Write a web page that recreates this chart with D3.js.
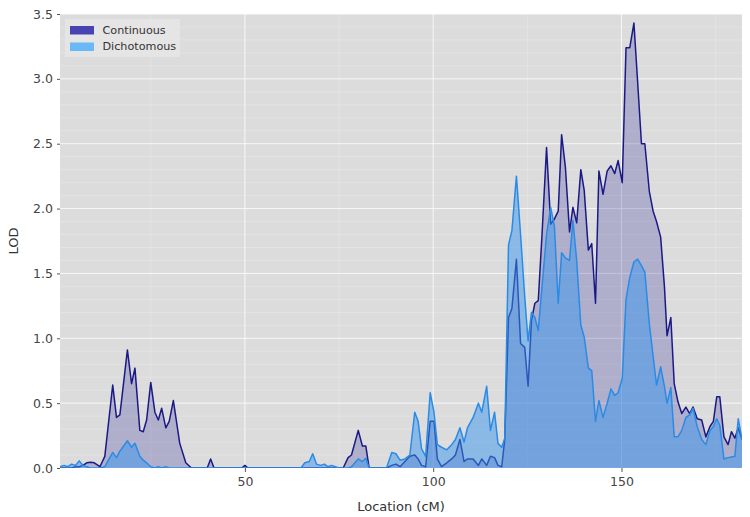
<!DOCTYPE html>
<html lang="en">
	<head>
		<meta charset="UTF-8" />
		<title>LOD profile</title>
		<style>
			html,
			body {
				margin: 0;
				padding: 0;
				background-color: #ffffff;
				font-family: 'DejaVu Sans', sans-serif;
			}

			#chart {
				display: block;
			}
		</style>
	</head>
	<body>
		<svg id="chart"></svg>

		<script src="https://d3js.org/d3.v7.min.js"></script>

		<script>
			const locations = [
				0.9, 2, 3, 4, 5, 6, 7, 8, 9, 10,
				11.5, 12.8, 14.9, 15.9, 16.8, 17.8, 18.8, 19.9, 20.8, 22.1,
				23, 23.9, 25, 26.1, 27, 27.9, 29, 29.9, 31, 32.7,
				34.3, 35.8, 40, 40.9, 41.8, 49.2, 50, 50.8, 64.9, 65.9,
				67.1, 68, 69, 70.1, 71.1, 72, 73, 74, 75, 76.1,
				77.4, 78.3, 80.1, 81.2, 82.1, 83, 87.6, 89, 90.1, 91.2,
				92.5, 93.8, 95.1, 96, 96.9, 98, 99.2, 100.2, 101.1, 102.2,
				103.6, 104.9, 105.9, 107.1, 108.2, 109.1, 110.6, 112, 112.9, 114.2,
				115.2, 116.3, 117.2, 118.2, 119, 120, 120.9, 122.1, 123.2, 124.3,
				125.2, 126.1, 127, 127.9, 128.9, 130.1, 131.2, 132.2, 133.2, 134.1,
				135.1, 136.2, 137.1, 138.1, 139.2, 140.1, 141.2, 142.1, 143.1, 144,
				145.1, 146.2, 147.2, 148.2, 149.1, 150.2, 151.2, 152.2, 153.3, 154.3,
				155.3, 156.2, 157.4, 158.4, 159.3, 160.4, 161.4, 162.1, 163.1, 164,
				165, 166, 167.1, 168.1, 169, 170.1, 171.3, 172.4, 173.5, 174.4,
				175.3, 176.1, 177.2, 178.3, 179.2, 180.1, 181, 182
			];

			const continuousLod = [
				0, 0, 0, 0, 0.01, 0.01, 0.02, 0.04, 0.045, 0.04,
				0.01, 0.09, 0.64, 0.39, 0.41, 0.66, 0.91, 0.65, 0.77, 0.29,
				0.28, 0.37, 0.66, 0.43, 0.37, 0.46, 0.31, 0.36, 0.52, 0.19,
				0.04, 0, 0, 0.07, 0, 0, 0.02, 0, 0, 0,
				0, 0, 0, 0, 0, 0, 0, 0, 0, 0,
				0.08, 0.1, 0.29, 0.17, 0.17, 0, 0, 0.02, 0.03, 0.01,
				0.05, 0.09, 0.1, 0.07, 0.02, 0.01, 0.36, 0.36, 0.07, 0.01,
				0.04, 0.07, 0.1, 0.22, 0.05, 0.07, 0.07, 0.02, 0.07, 0.02,
				0.09, 0.08, 0.02, 0.01, 0.22, 1.16, 1.23, 1.61, 0.96, 0.93,
				0.63, 1.14, 1.27, 1.29, 1.8, 2.47, 1.88, 1.92, 1.98, 2.57,
				2.32, 1.82, 2.01, 1.89, 2.3, 2.14, 1.68, 1.73, 1.27, 2.29,
				2.11, 2.29, 2.33, 2.27, 2.37, 2.2, 3.24, 3.24, 3.43, 2.97,
				2.5, 2.5, 2.13, 1.98, 1.9, 1.78, 1.4, 1.02, 1.16, 0.65,
				0.51, 0.42, 0.47, 0.42, 0.47, 0.38, 0.37, 0.24, 0.32, 0.36,
				0.55, 0.55, 0.24, 0.18, 0.28, 0.23, 0.31, 0.22
			];

			const dichotomousLod = [
				0.01, 0.02, 0.01, 0.03, 0.02, 0.055, 0.02, 0.01, 0, 0,
				0, 0.01, 0.12, 0.08, 0.13, 0.17, 0.21, 0.16, 0.19, 0.09,
				0.06, 0.04, 0.01, 0, 0.01, 0, 0.01, 0, 0, 0,
				0, 0, 0, 0, 0, 0, 0, 0, 0, 0.04,
				0.05, 0.11, 0.03, 0.02, 0.03, 0.01, 0.02, 0.01, 0, 0,
				0, 0.01, 0.07, 0.05, 0.075, 0, 0, 0.12, 0.11, 0.06,
				0.07, 0.1, 0.43, 0.36, 0.15, 0.09, 0.58, 0.43, 0.18, 0.16,
				0.14, 0.18, 0.22, 0.31, 0.2, 0.31, 0.39, 0.5, 0.43, 0.63,
				0.29, 0.43, 0.19, 0.16, 0.23, 1.72, 1.83, 2.25, 1.8, 1.32,
				0.98, 1.2, 1.16, 1.06, 1.4, 1.8, 2.01, 1.86, 1.27, 1.66,
				1.62, 1.6, 1.91, 1.6, 1.1, 1.01, 0.77, 0.75, 0.36, 0.52,
				0.39, 0.5, 0.61, 0.56, 0.58, 0.69, 1.3, 1.47, 1.59, 1.61,
				1.56, 1.51, 1.11, 0.86, 0.64, 0.78, 0.63, 0.5, 0.62, 0.24,
				0.24, 0.29, 0.39, 0.41, 0.46, 0.32, 0.22, 0.18, 0.29, 0.32,
				0.38, 0.33, 0.07, 0.08, 0.085, 0.09, 0.38, 0.22
			];

			const seriesNames = ['Continuous', 'Dichotomous'];
			const xTicks = [50, 100, 150];
			const yTicks = [0, 0.5, 1.0, 1.5, 2.0, 2.5, 3.0, 3.5];

			const width = 750;
			const height = 517;
			const margin = { top: 14, right: 8, bottom: 49, left: 60 };

			const svg = d3.select('#chart').attr('width', width).attr('height', height);

			const x = d3
				.scaleLinear()
				.domain(d3.extent(locations))
				.range([margin.left, width - margin.right]);

			const y = d3
				.scaleLinear()
				.domain([0, 3.5])
				.range([height - margin.bottom, margin.top]);

			// panel background
			svg.append('rect')
				.attr('x', margin.left)
				.attr('y', margin.top)
				.attr('width', width - margin.left - margin.right)
				.attr('height', height - margin.top - margin.bottom)
				.attr('fill', '#dcdcdc');

			svg.append('clipPath')
				.attr('id', 'panel-clip')
				.append('rect')
				.attr('x', margin.left)
				.attr('y', margin.top)
				.attr('width', width - margin.left - margin.right)
				.attr('height', height - margin.top - margin.bottom);

			// grid: minor first, then major
			const grid = svg.append('g').attr('clip-path', 'url(#panel-clip)');
			const minorY = d3.range(0, 3.51, 0.1).filter((v) => Math.abs(v * 2 - Math.round(v * 2)) > 1e-6);
			const minorX = [25, 75, 125, 175];

			grid.selectAll('.minor-y')
				.data(minorY)
				.join('line')
				.attr('x1', margin.left)
				.attr('x2', width - margin.right)
				.attr('y1', (d) => y(d))
				.attr('y2', (d) => y(d))
				.attr('stroke', '#ffffff')
				.attr('stroke-opacity', 0.35)
				.attr('stroke-width', 0.6);

			grid.selectAll('.minor-x')
				.data(minorX)
				.join('line')
				.attr('x1', (d) => x(d))
				.attr('x2', (d) => x(d))
				.attr('y1', margin.top)
				.attr('y2', height - margin.bottom)
				.attr('stroke', '#ffffff')
				.attr('stroke-opacity', 0.35)
				.attr('stroke-width', 0.6);

			grid.selectAll('.major-y')
				.data(yTicks)
				.join('line')
				.attr('x1', margin.left)
				.attr('x2', width - margin.right)
				.attr('y1', (d) => y(d))
				.attr('y2', (d) => y(d))
				.attr('stroke', '#ffffff')
				.attr('stroke-opacity', 0.8)
				.attr('stroke-width', 1);

			grid.selectAll('.major-x')
				.data(xTicks)
				.join('line')
				.attr('x1', (d) => x(d))
				.attr('x2', (d) => x(d))
				.attr('y1', margin.top)
				.attr('y2', height - margin.bottom)
				.attr('stroke', '#ffffff')
				.attr('stroke-opacity', 0.8)
				.attr('stroke-width', 1);

			const contData = locations.map((loc, i) => ({ loc, lod: continuousLod[i] }));
			const dichData = locations.map((loc, i) => ({ loc, lod: dichotomousLod[i] }));

			const area = d3
				.area()
				.x((d) => x(d.loc))
				.y0(y(0))
				.y1((d) => y(d.lod));

			const line = d3
				.line()
				.x((d) => x(d.loc))
				.y((d) => y(d.lod));

			const plot = svg.append('g').attr('clip-path', 'url(#panel-clip)');

			plot.append('path')
				.datum(contData)
				.attr('d', area)
				.attr('fill', 'rgb(60, 56, 160)')
				.attr('fill-opacity', 0.27);

			plot.append('path')
				.datum(contData)
				.attr('d', line)
				.attr('fill', 'none')
				.attr('stroke', '#1b1a85')
				.attr('stroke-width', 1.5)
				.attr('stroke-linejoin', 'round');

			plot.append('path')
				.datum(dichData)
				.attr('d', area)
				.attr('fill', 'rgb(55, 150, 240)')
				.attr('fill-opacity', 0.5);

			plot.append('path')
				.datum(dichData)
				.attr('d', line)
				.attr('fill', 'none')
				.attr('stroke', '#2a8be6')
				.attr('stroke-width', 1.5)
				.attr('stroke-linejoin', 'round');

			// axes
			const xAxis = svg
				.append('g')
				.attr('transform', `translate(0,${height - margin.bottom})`)
				.call(d3.axisBottom(x).tickValues(xTicks).tickFormat(d3.format('d')).tickSize(4).tickPadding(5));

			const yAxis = svg
				.append('g')
				.attr('transform', `translate(${margin.left},0)`)
				.call(d3.axisLeft(y).tickValues(yTicks).tickFormat(d3.format('.1f')).tickSize(3).tickPadding(4));

			[xAxis, yAxis].forEach((ax) => {
				ax.select('.domain').remove();
				ax.selectAll('.tick line').attr('stroke', '#555555');
				ax.selectAll('.tick text')
					.attr('fill', '#444444')
					.style('font-family', "'DejaVu Sans', sans-serif")
					.style('font-size', '12.5px');
			});

			svg.append('text')
				.attr('x', (margin.left + width - margin.right) / 2)
				.attr('y', 511)
				.attr('text-anchor', 'middle')
				.attr('fill', '#333333')
				.style('font-size', '13px')
				.text('Location (cM)');

			svg.append('text')
				.attr('transform', `translate(18,${(margin.top + height - margin.bottom) / 2}) rotate(-90)`)
				.attr('text-anchor', 'middle')
				.attr('fill', '#333333')
				.style('font-size', '13px')
				.text('LOD');

			// legend
			const legend = svg.append('g').attr('transform', 'translate(65,19)');
			legend.append('rect')
				.attr('width', 115)
				.attr('height', 38)
				.attr('fill', '#e6e6e6')
				.attr('fill-opacity', 0.9);

			const swatchColors = ['#4743b2', '#6ab8f6'];
			seriesNames.forEach((name, i) => {
				legend.append('rect')
					.attr('x', 5)
					.attr('y', 7 + i * 16.5)
					.attr('width', 24)
					.attr('height', 8.5)
					.attr('fill', swatchColors[i]);
				legend.append('text')
					.attr('x', 37.5)
					.attr('y', 14.5 + i * 16.5)
					.attr('fill', '#333333')
					.style('font-size', '11.2px')
					.text(name);
			});
		</script>
	</body>
</html>
